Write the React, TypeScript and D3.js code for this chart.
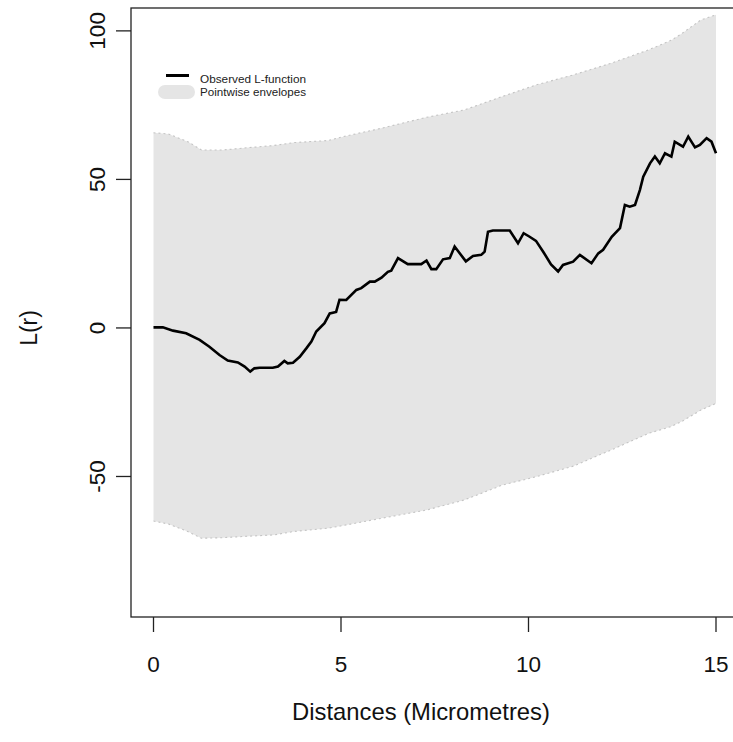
import React from "react";
import * as d3 from "d3";

const envR = [0, 0.4, 0.93, 1.28, 1.84, 2.54, 3.2, 3.75, 4.66, 5.06, 6.07, 7.28, 8.29, 9.3, 10.2, 11.2, 12.2, 13.2, 13.8, 14.1, 14.6, 15];
const envHi = [65.7, 65.3, 62.6, 59.9, 59.9, 60.7, 61.4, 62.4, 63.1, 64.4, 67.2, 70.9, 73.4, 77.9, 81.8, 85.2, 89.1, 93.6, 96.8, 99.2, 103.7, 105.4];
const envLo = [-65, -66.0, -68.6, -70.8, -70.6, -70.1, -69.7, -68.5, -67.4, -66.5, -64.1, -61.3, -57.9, -52.9, -50.1, -46.5, -41.1, -35.5, -33.2, -31.4, -27.6, -25.4];

const obsR = [0, 0.25, 0.52, 0.87, 1.23, 1.49, 1.76, 1.98, 2.25, 2.43, 2.58, 2.69, 2.83, 3.18, 3.32, 3.49, 3.58, 3.72, 3.9, 4.08, 4.21, 4.34, 4.56, 4.7, 4.87, 4.96, 5.14, 5.41, 5.54, 5.77, 5.9, 6.08, 6.25, 6.34, 6.52, 6.78, 7.14, 7.28, 7.41, 7.54, 7.72, 7.9, 8.03, 8.33, 8.52, 8.74, 8.83, 8.92, 9.05, 9.5, 9.72, 9.87, 10.03, 10.2, 10.4, 10.6, 10.79, 10.92, 11.19, 11.37, 11.68, 11.86, 11.99, 12.22, 12.44, 12.57, 12.7, 12.84, 12.97, 13.06, 13.24, 13.37, 13.5, 13.64, 13.81, 13.9, 14.12, 14.26, 14.44, 14.57, 14.75, 14.88, 15];
const obsL = [0.2, 0.2, -0.9, -1.8, -4, -6.3, -9.1, -11, -11.6, -13, -14.7, -13.6, -13.4, -13.4, -13, -11.1, -11.9, -11.7, -9.7, -6.8, -4.6, -1.2, 1.6, 4.9, 5.4, 9.5, 9.4, 12.8, 13.4, 15.6, 15.6, 16.9, 18.9, 19.3, 23.5, 21.5, 21.5, 22.7, 19.8, 19.8, 23.1, 23.5, 27.4, 22.4, 24.2, 24.6, 25.7, 32.4, 32.8, 32.8, 28.5, 31.9, 30.7, 29.3, 25.5, 21.4, 19, 21.2, 22.3, 24.6, 21.8, 25.1, 26.3, 30.7, 33.6, 41.4, 40.8, 41.4, 46.4, 50.9, 55.4, 57.7, 55.4, 58.8, 57.7, 62.7, 61, 64.4, 60.8, 61.6, 63.9, 62.7, 58.8];

const xTicks = [0, 5, 10, 15];
const yTicks = [-50, 0, 50, 100];
const legendLabels = ["Observed L-function", "Pointwise envelopes"];
const xTitle = "Distances (Micrometres)";
const yTitle = "L(r)";

export default function App() {
  const W = 733, H = 742;
  const x = d3.scaleLinear().domain([-0.6, 15.6]).range([131, 738.5]);
  const y = d3.scaleLinear().domain([-97.3, 107.7]).range([617, 8]);
  const env = envR.map((r, i) => ({ r, hi: envHi[i], lo: envLo[i] }));
  const area = d3.area<any>().x(d => x(d.r)).y0(d => y(d.lo)).y1(d => y(d.hi));
  const hiLine = d3.line<any>().x(d => x(d.r)).y(d => y(d.hi));
  const loLine = d3.line<any>().x(d => x(d.r)).y(d => y(d.lo));
  const obs = obsR.map((r, i) => ({ r, v: obsL[i] }));
  const obsLine = d3.line<any>().x(d => x(d.r)).y(d => y(d.v));
  const font = "Liberation Sans, Arial, sans-serif";
  const fs = 22.5;
  return (
    <svg width={W} height={H} style={{ position: "absolute", left: 0, top: 0, background: "#fff" }} fontFamily={font}>
      <path d={area(env) || ""} fill="#E5E5E5" stroke="none" />
      <path d={hiLine(env) || ""} fill="none" stroke="#C4C4C4" strokeWidth={1.1} strokeDasharray="2,3" />
      <path d={loLine(env) || ""} fill="none" stroke="#C4C4C4" strokeWidth={1.1} strokeDasharray="2,3" />
      <path d={obsLine(obs) || ""} fill="none" stroke="#000" strokeWidth={2.6} strokeLinejoin="miter" />
      <rect x={131} y={8} width={738.5 - 131} height={617 - 8} fill="none" stroke="#222" strokeWidth={1.3} />
      {xTicks.map(t => (
        <g key={"x" + t}>
          <line x1={x(t)} x2={x(t)} y1={617} y2={632} stroke="#222" strokeWidth={1.3} />
          <text x={x(t)} y={672} fontSize={fs} textAnchor="middle" fill="#111">{t}</text>
        </g>
      ))}
      {yTicks.map(t => (
        <g key={"y" + t}>
          <line x1={116} x2={131} y1={y(t)} y2={y(t)} stroke="#222" strokeWidth={1.3} />
          <text transform={`translate(105,${y(t)}) rotate(-90)`} fontSize={fs} textAnchor="middle" fill="#111">{t}</text>
        </g>
      ))}
      <text x={421} y={720} fontSize={23.8} textAnchor="middle" fill="#111">{xTitle}</text>
      <text transform={`translate(37,${y(0)}) rotate(-90)`} fontSize={23} textAnchor="middle" fill="#111">{yTitle}</text>
      <line x1={166} x2={189} y1={75.5} y2={75.5} stroke="#000" strokeWidth={3} />
      <line x1={165} x2={188} y1={92} y2={92} stroke="#E5E5E5" strokeWidth={14} strokeLinecap="round" />
      <text x={200} y={83} fontSize={11} textLength={106} lengthAdjust="spacingAndGlyphs" fill="#222">{legendLabels[0]}</text>
      <text x={200} y={96} fontSize={11} textLength={106} lengthAdjust="spacingAndGlyphs" fill="#222">{legendLabels[1]}</text>
    </svg>
  );
}
